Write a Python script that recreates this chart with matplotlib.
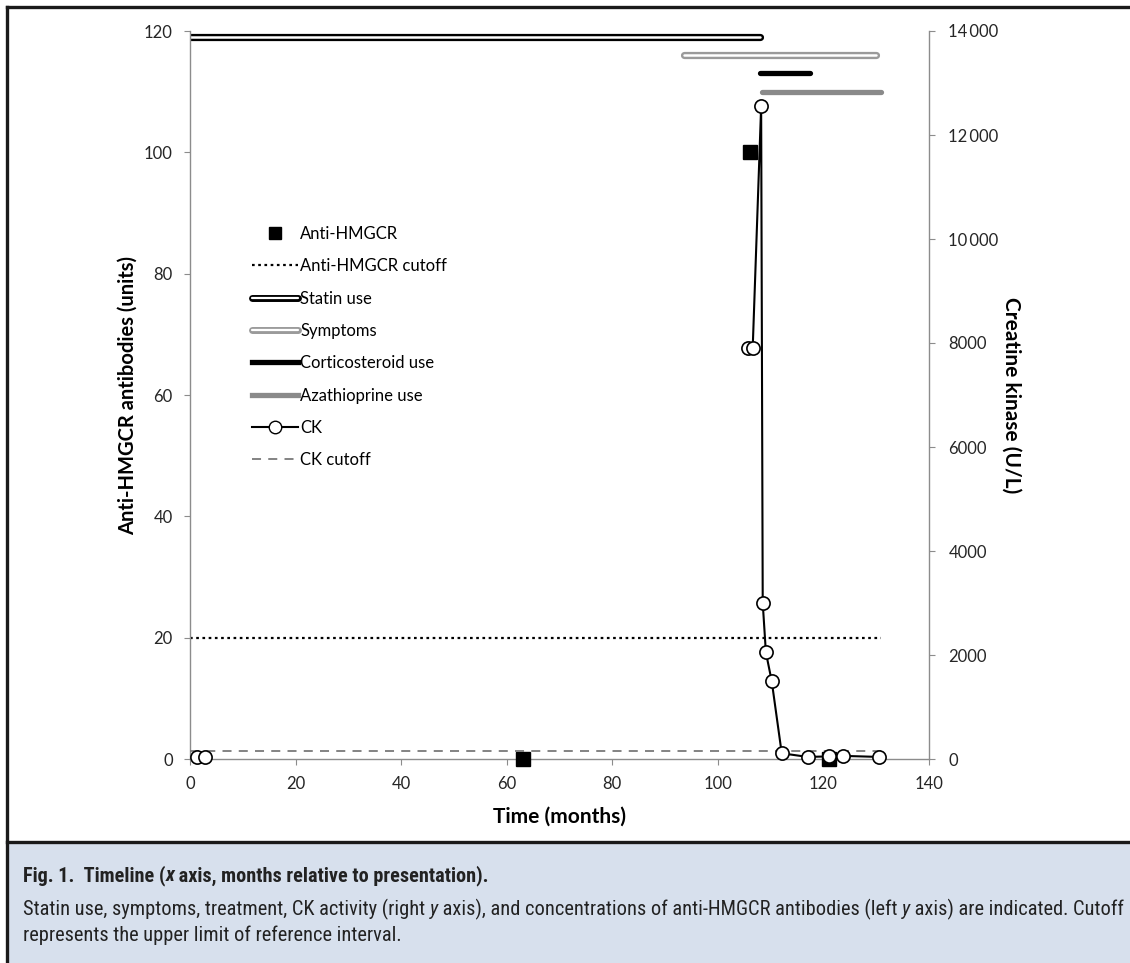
import numpy as np
import matplotlib
matplotlib.use('Agg')
from matplotlib import pyplot as plt
from matplotlib.lines import Line2D
from matplotlib.patches import Rectangle
from matplotlib.legend_handler import HandlerTuple

#  data
ab_months = [63, 106, 121]
anti_hmgcr = [0, 100, 0]

ck_months = [1.3, 2.8, np.nan, 105.7, 106.6, 108.2, 108.5, 109.1, 110.2, 112.1, 117.0, 121.0, 123.7, 130.5]
ck_values = [30, 30, np.nan, 7900, 7900, 12550, 3000, 2050, 1500, 110, 40, 50, 60, 40]

ab_cutoff = 20
ck_cutoff = 150
cutoff_span = [0, 131]

#  timeline bars: start, end, level (left axis units)
bar_names = ['Statin use', 'Symptoms', 'Corticosteroid use', 'Azathioprine use']
bar_start = [0, 93.5, 108, 108.3]
bar_end = [108, 130, 117.5, 131]
bar_level = [119, 116, 113, 110]

x_ticks = [0, 20, 40, 60, 80, 100, 120, 140]
left_ticks = [0, 20, 40, 60, 80, 100, 120]
right_ticks = [0, 2000, 4000, 6000, 8000, 10000, 12000, 14000]
right_labels = ['0', '2000', '4000', '6000', '8000', '10\u2009000', '12\u2009000', '14\u2009000']

caption_title = ['Fig. 1.  Timeline (', 'x', ' axis, months relative to presentation).']
caption_body = ['Statin use, symptoms, treatment, CK activity (right ', 'y',
                ' axis), and concentrations of anti-HMGCR antibodies (left ', 'y',
                ' axis) are indicated. Cutoff']
caption_last = ['represents the upper limit of reference interval.']

plt.rcParams['font.family'] = ['Lato', 'DejaVu Sans']
cap_font = ['Roboto Condensed', 'DejaVu Sans Condensed', 'Liberation Sans Narrow', 'Lato']

W, H = 1130, 963
fig = plt.figure(figsize=(W / 100, H / 100), dpi=100)

#  frame and caption box
fig.patches.append(Rectangle((7 / W, 0), 1, (963 - 842) / H, transform=fig.transFigure,
                             facecolor='#d7e0ed', edgecolor='none', zorder=0))
for xs, ys in [([7, W], [7, 7]), ([7, 7], [7, H]), ([7, W], [842, 842])]:
    fig.add_artist(Line2D([x / W for x in xs], [1 - y / H for y in ys], color='#1a1a1a', lw=2.4))

ax = fig.add_axes([190 / W, 1 - 759 / H, (929 - 190) / W, (759 - 31) / H])
ax2 = ax.twinx()

gray_ax = '#8c8c8c'
for a in (ax, ax2):
    a.set_facecolor('none')
    for s in a.spines.values():
        s.set_color(gray_ax)
        s.set_linewidth(1.0)
    a.spines['top'].set_visible(False)
    a.tick_params(colors=gray_ax, labelcolor='#262626', labelsize=12, length=4)
ax.tick_params(axis='y', pad=8.5)
ax.tick_params(axis='x', pad=8)
ax2.tick_params(axis='y', pad=10)
ax.spines['right'].set_visible(False)
ax2.spines['left'].set_visible(False)
ax2.spines['bottom'].set_visible(False)

ax.set_xlim(0, 140)
ax.set_ylim(0, 120)
ax2.set_ylim(0, 14000)
ax.set_xticks(x_ticks)
ax.set_yticks(left_ticks)
ax2.set_yticks(right_ticks)
ax2.set_yticklabels(right_labels)

#  bars
bar_colors = ['black', '#9a9a9a', 'black', '#8a8a8a']
hollow = [True, True, False, False]
for i in range(len(bar_names)):
    xs = [bar_start[i], bar_end[i]]
    ys = [bar_level[i], bar_level[i]]
    if hollow[i]:
        ax.plot(xs, ys, color=bar_colors[i], lw=5.2, solid_capstyle='round')
        ax.plot(xs, ys, color='white', lw=1.8, solid_capstyle='round')
    else:
        ax.plot(xs, ys, color=bar_colors[i], lw=3.8, solid_capstyle='round')

#  cutoffs
ax.plot(cutoff_span, [ab_cutoff, ab_cutoff], color='black', ls=(0, (1.2, 1.6)), lw=1.6)
ax2.plot(cutoff_span, [ck_cutoff, ck_cutoff], color='#7a7a7a', ls=(0, (5, 4)), lw=1.3)

#  measurements
ax.plot(ab_months, anti_hmgcr, ls='none', marker='s', color='black', ms=10, clip_on=False, zorder=5)
ax2.plot(ck_months, ck_values, color='black', lw=1.5, marker='o', ms=9.5,
         mfc='white', mec='black', mew=1.2, clip_on=False, zorder=6)

ax.set_xlabel('Time (months)', fontsize=15, fontweight='bold', labelpad=11)
ax.set_ylabel('Anti-HMGCR antibodies (units)', fontsize=14.5, fontweight='bold', labelpad=4)
ax2.set_ylabel('Creatine kinase (U/L)', fontsize=15, fontweight='bold', rotation=270, labelpad=16)

#  legend
h_ab = Line2D([], [], ls='none', marker='s', color='black', ms=8)
h_abc = Line2D([], [], color='black', ls=(0, (1.2, 1.6)), lw=1.6)
h_stat = (Line2D([], [], color='black', lw=5, solid_capstyle='round'),
          Line2D([], [], color='white', lw=1.6, solid_capstyle='round'))
h_sym = (Line2D([], [], color='#9a9a9a', lw=5, solid_capstyle='round'),
         Line2D([], [], color='white', lw=1.6, solid_capstyle='round'))
h_cort = Line2D([], [], color='black', lw=3.8)
h_aza = Line2D([], [], color='#8a8a8a', lw=3.8)
h_ck = Line2D([], [], color='black', lw=1.5, marker='o', ms=9, mfc='white', mec='black')
h_ckc = Line2D([], [], color='#7a7a7a', ls=(0, (5, 4)), lw=1.3)
leg = fig.legend([h_ab, h_abc, h_stat, h_sym, h_cort, h_aza, h_ck, h_ckc],
                 ['Anti-HMGCR', 'Anti-HMGCR cutoff'] + bar_names + ['CK', 'CK cutoff'],
                 handler_map={tuple: HandlerTuple(ndivide=1)},
                 loc='upper left', bbox_to_anchor=(252 / W, 1 - 226 / H), frameon=False,
                 fontsize=12, handlelength=2.75, handletextpad=0.15, labelspacing=0.98,
                 borderpad=0, borderaxespad=0)

#  caption, pieced together so the axis letters can be italic
fig.canvas.draw()
r = fig.canvas.get_renderer()

def place(parts, x0, y0, weight, size):
    x = x0
    made = []
    for j, p in enumerate(parts):
        style = 'italic' if j % 2 == 1 else 'normal'
        t = fig.text(x / W, 1 - y0 / H, p, fontsize=size, fontweight=weight, style=style,
                     family=cap_font, fontstretch='condensed', color='#222222', va='baseline')
        x = t.get_window_extent(renderer=r).x1
        made.append(t)
    return x, made

def fit(parts, x0, y0, weight, target):
    end, made = place(parts, x0, y0, weight, 12)
    for t in made:
        t.remove()
    size = 12 * (target - x0) / (end - x0)
    place(parts, x0, y0, weight, size)
    return size

fit(caption_title, 23, 881, 'bold', 490)
body_size = fit(caption_body, 23, 915, 'normal', 1120)
place(caption_last, 23, 941, 'normal', body_size)

fig.savefig('out.png', dpi=100)
